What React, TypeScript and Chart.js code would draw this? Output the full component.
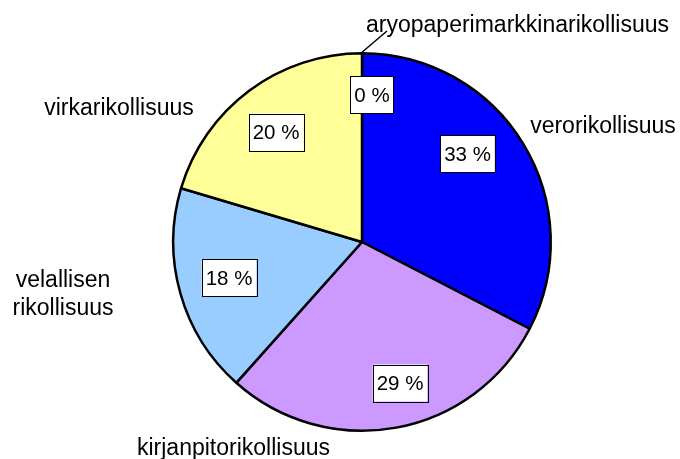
import React, { useEffect, useRef } from "react";
import { Chart, registerables } from "chart.js";

Chart.register(...registerables);

const categories = [
  "verorikollisuus",
  "kirjanpitorikollisuus",
  "velallisen rikollisuus",
  "virkarikollisuus",
  "aryopaperimarkkinarikollisuus",
];
const categoryLines = [
  ["verorikollisuus"],
  ["kirjanpitorikollisuus"],
  ["velallisen", "rikollisuus"],
  ["virkarikollisuus"],
  ["aryopaperimarkkinarikollisuus"],
];
const values = [32.6, 29.0, 18.0, 20.4, 0];
const colors = ["#0000FF", "#CC99FF", "#99CCFF", "#FFFF99", "#FFFFFF"];

// label placement relative to pie centre (style only)
const pctOffsets = [
  [105.5, -88.5],
  [38, 141],
  [-133, 35.5],
  [-86, -110],
  [10, -147.5],
];
const nameOffsets = [
  [241, -109],
  [-128.5, 213],
  [-299, 44.7],
  [-243, -127],
  [155.5, -210],
];

const labelPlugin = {
  id: "labelPlugin",
  afterDraw(chart: any) {
    const ctx = chart.ctx;
    const meta = chart.getDatasetMeta(0);
    const data = chart.data.datasets[0].data as number[];
    const total = data.reduce((a, b) => a + b, 0);
    ctx.save();
    meta.data.forEach((arc: any, i: number) => {
      const cx = arc.x;
      const cy = arc.y;
      // category label
      ctx.font = "23px 'Liberation Sans', Arial, sans-serif";
      ctx.fillStyle = "#000";
      ctx.textAlign = "center";
      ctx.textBaseline = "alphabetic";
      const [nx, ny] = nameOffsets[i];
      categoryLines[i].forEach((line, j) => {
        ctx.fillText(line, cx + nx, cy + ny + j * 28.3);
      });
      // leader line for tiny slice
      if (i === 4) {
        const ang = (arc.startAngle + arc.endAngle) / 2;
        const r = arc.outerRadius + 1;
        ctx.beginPath();
        ctx.strokeStyle = "#000";
        ctx.lineWidth = 1.5;
        ctx.moveTo(cx + Math.cos(ang) * r, cy + Math.sin(ang) * r);
        ctx.lineTo(cx + 25, cy - 211);
        ctx.stroke();
      }
      // percent box
      const pct = Math.round((data[i] / total) * 100) + " %";
      ctx.font = "20.5px 'Liberation Sans', Arial, sans-serif";
      const w = ctx.measureText(pct).width + 8;
      const h = 37;
      const [px, py] = pctOffsets[i];
      const bx = cx + px;
      const by = cy + py;
      ctx.fillStyle = "#fff";
      ctx.fillRect(bx - w / 2, by - h / 2, w, h);
      ctx.strokeStyle = "#000";
      ctx.lineWidth = 1;
      ctx.strokeRect(Math.round(bx - w / 2) + 0.5, Math.round(by - h / 2) + 0.5, Math.round(w), h);
      ctx.fillStyle = "#000";
      ctx.fillText(pct, bx, by + 7);
    });
    ctx.restore();
  },
};

export default function App() {
  const ref = useRef<HTMLCanvasElement>(null);
  useEffect(() => {
    if (!ref.current) return;
    const chart = new Chart(ref.current, {
      type: "pie",
      data: {
        labels: categories,
        datasets: [
          {
            data: values,
            backgroundColor: colors,
            borderColor: "#000",
            borderWidth: 2.5,
          },
        ],
      },
      options: {
        animation: false,
        responsive: true,
        maintainAspectRatio: false,
        layout: { padding: { left: 172, right: 128, top: 52, bottom: 27 } },
        plugins: {
          legend: { display: false },
          tooltip: { enabled: false },
        },
      },
      plugins: [labelPlugin],
    });
    return () => chart.destroy();
  }, []);
  return (
    <div
      style={{
        position: "fixed",
        left: 0,
        top: 0,
        width: 680,
        height: 459,
        background: "#fff",
      }}
    >
      <canvas ref={ref} />
    </div>
  );
}
